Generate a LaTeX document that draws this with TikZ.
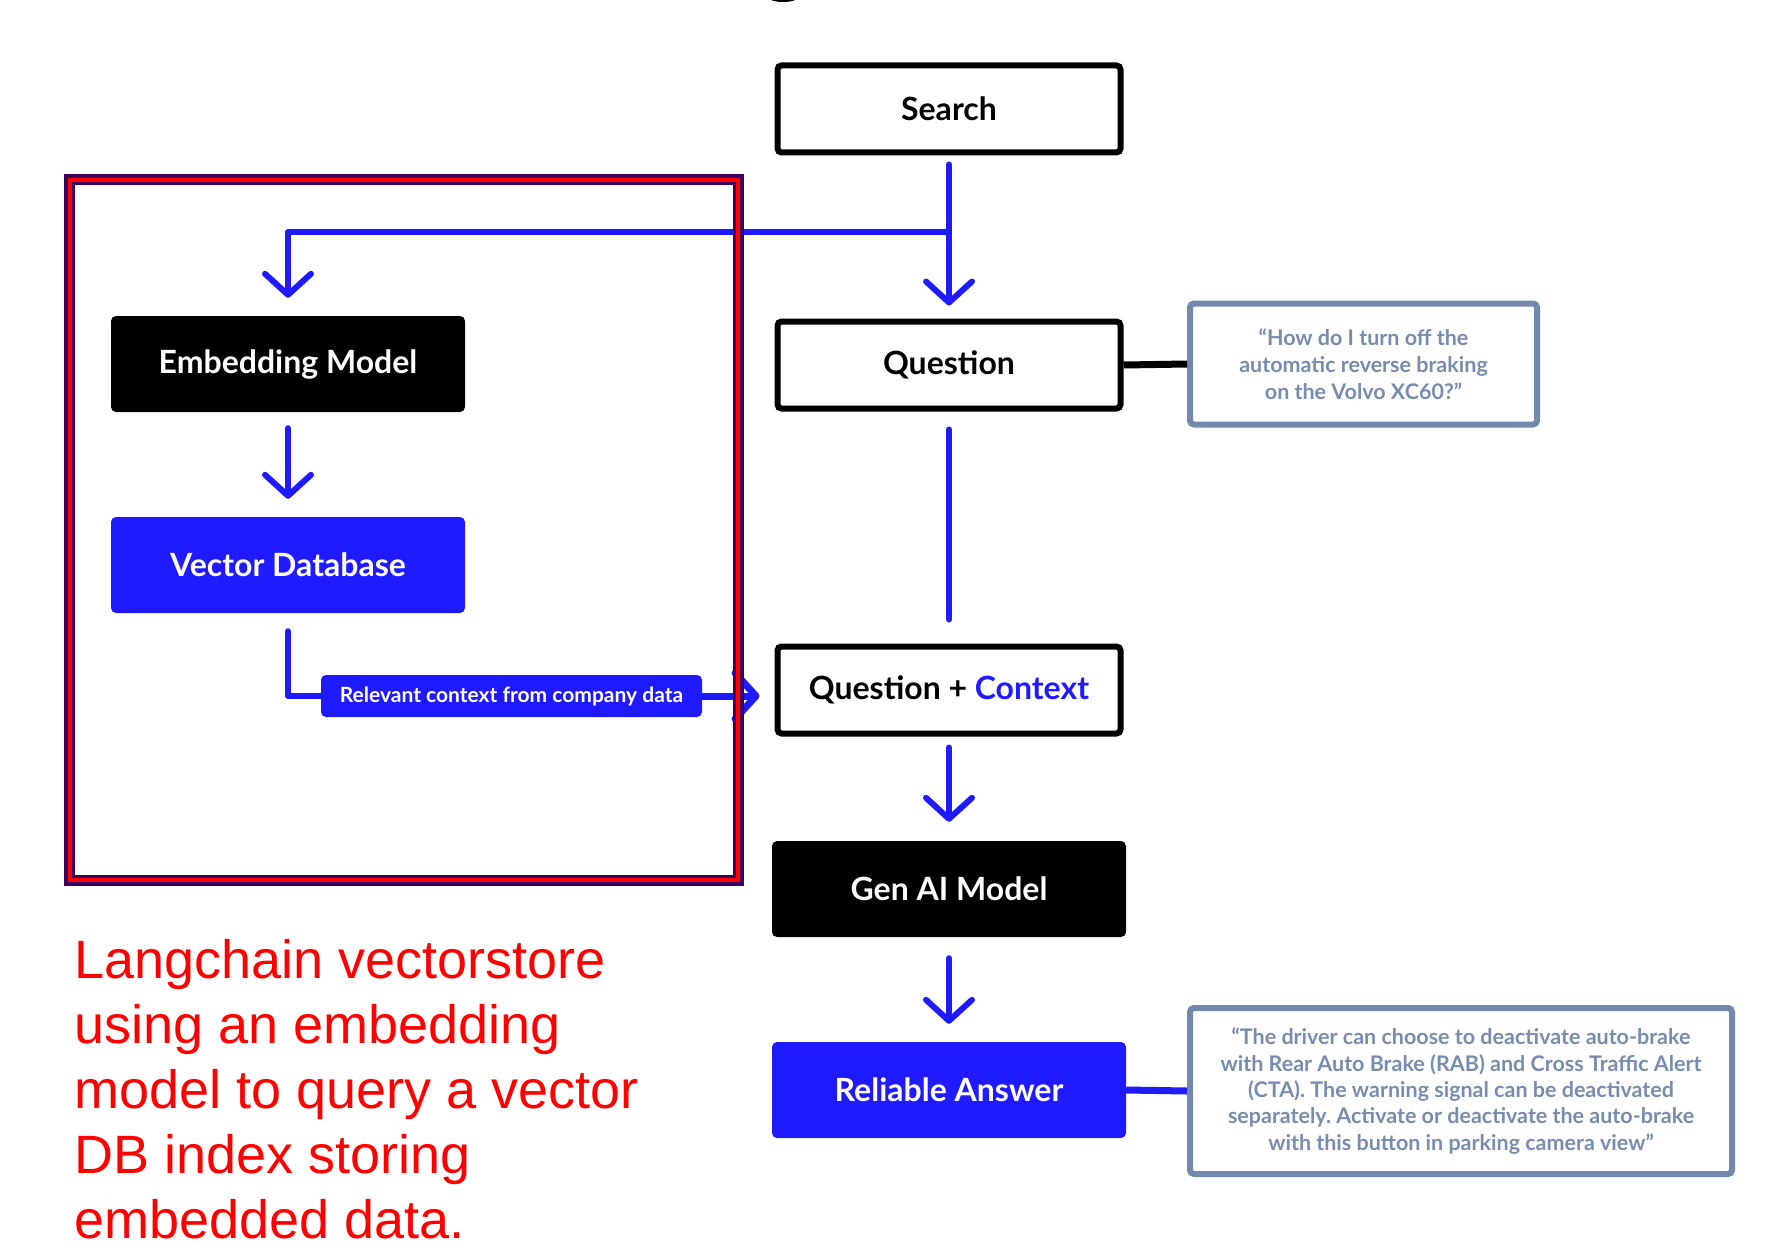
\documentclass[tikz,border=0pt]{standalone}
\usepackage{fontspec}
\setmainfont{Lato}
\newfontfamily\arialf{Liberation Sans}
\usetikzlibrary{arrows.meta}
\frenchspacing
\definecolor{blueM}{RGB}{31,26,255}
\definecolor{slateB}{RGB}{114,137,173}
\definecolor{slateT}{RGB}{120,140,176}
\definecolor{frameP}{RGB}{60,0,95}
\definecolor{frameR}{RGB}{255,0,0}
\tikzset{
  wbox/.style={draw=black, fill=white, line width=6pt, rounded corners=4pt,
    minimum width=343pt, minimum height=87pt, inner sep=0pt,
    font=\fontsize{32}{38}\selectfont\bfseries},
  kbox/.style={fill=black, text=white, rounded corners=5pt,
    minimum width=354pt, minimum height=96pt, inner sep=0pt,
    font=\fontsize{32}{38}\selectfont\bfseries},
  bbox/.style={kbox, fill=blueM},
  pillbox/.style={fill=blueM, text=white, rounded corners=5pt,
    minimum width=381pt, minimum height=42pt, inner sep=0pt,
    font=\fontsize{21}{24}\selectfont\bfseries},
  callout/.style={draw=slateB, fill=white, line width=6pt, rounded corners=4pt,
    inner sep=0pt, text=slateT, align=center,
    font=\fontsize{21.5}{27}\selectfont\bfseries\frenchspacing},
  flow/.style={draw=blueM, line width=6pt, line cap=round, line join=round},
  flowarrow/.style={flow, -{Straight Barb[length=21pt,width=46pt,round]}},
  redtext/.style={text=frameR, anchor=base west, inner sep=0pt,
    font=\arialf\fontsize{54}{65}\selectfont},
}
\begin{document}
\begin{tikzpicture}[x=1pt,y=-1pt]
\useasboundingbox (0,0) rectangle (1790,1252);
% cropped fragment at top
\fill[black] (783,-2) ellipse (14pt and 4pt);

% main column
\node[wbox] (search) at (949,109) {Search};
\node[wbox] (question) at (949,365) {Question};
\node[wbox] (qc) at (949,690) {Question + {\color{blueM}Context}};
\node[kbox] (genai) at (949,889) {Gen AI Model};
\node[bbox] (reliable) at (949,1090) {Reliable Answer};

% left column
\node[kbox] (embed) at (288,364) {Embedding Model};
\node[bbox] (vdb) at (288,565) {Vector Database};
\node[pillbox] (pill) at (511.5,696) {Relevant context from company data};

% callouts
\node[callout, minimum width=347pt, minimum height=121pt] (call1) at (1363.5,364)
  {“How do I turn off the\\automatic reverse braking\\on the Volvo XC60?”};
\node[callout, minimum width=542pt, minimum height=166pt,
  font=\fontsize{21.5}{26.4}\selectfont\bfseries\frenchspacing] (call2) at (1461,1091)
  {“The driver can choose to deactivate auto-brake\\with Rear Auto Brake (RAB) and Cross Traffic Alert\\(CTA). The warning signal can be deactivated\\separately. Activate or deactivate the auto-brake\\with this button in parking camera view”};

% connectors
\coordinate (br) at (949,232);
\draw[flowarrow, shorten <=9pt, shorten >=13pt] (search.south) -- (question.north);
\draw[flowarrow, shorten >=18pt] (br) -| (embed.north);
\draw[flowarrow, shorten <=16pt, shorten >=18pt] (embed.south) -- (vdb.north);
\draw[flow, shorten <=18pt] (vdb.south) |- (pill.west);
\draw[flowarrow, line width=7pt, shorten >=15pt] (pill.east) -- (pill.east -| qc.west);
\draw[flow, shorten <=18pt, shorten >=24pt] (question.south) -- (qc.north);
\draw[flowarrow, shorten <=11pt, shorten >=19pt] (qc.south) -- (genai.north);
\draw[flowarrow, shorten <=21pt, shorten >=18pt] (genai.south) -- (reliable.north);
\draw[black, line width=7pt] (question.east) -- (call1.west);
\draw[blueM, line width=7pt] (reliable.east) -- (call2.west);

% red frame
\draw[frameP, line width=11pt] (69.5,179.5) rectangle (738.5,880.5);
\draw[frameR, line width=4pt] (70,180) rectangle (738,880);

% red caption
\node[redtext] (t1) at (74,978) {Langchain vectorstore};
\node[redtext] (t2) at (74,1043) {using an embedding};
\node[redtext] (t3) at (74,1108) {model to query a vector};
\node[redtext] (t4) at (74,1173) {DB index storing};
\node[redtext] (t5) at (74,1238) {embedded data.};
\end{tikzpicture}
\end{document}
